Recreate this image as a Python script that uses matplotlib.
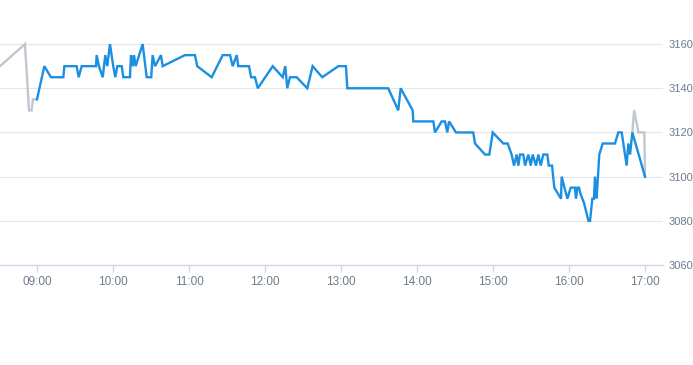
import matplotlib

matplotlib.use("Agg")
import matplotlib.pyplot as plt
from matplotlib.ticker import FixedLocator, FuncFormatter

# minutes after 09:00 -> price
PRE_T = [-29.2, -9.5, -6.3, -4.2, -3.2, -1.6, 0.0]
PRE_V = [3150, 3160, 3130, 3130, 3135, 3135, 3135]

DAY_T = [0.0, 5.8, 11.0, 20.8, 21.6, 31.3, 32.9, 35.3, 46.6, 47.1, 48.9, 51.9,
         53.9, 55.5, 57.6, 60.2, 61.8, 63.4, 66.9, 68.1, 73.4, 74.2, 75.6, 76.6,
         77.9, 83.4, 86.6, 90.2, 91.3, 93.2, 97.9, 99.2, 116.8, 124.7, 126.5,
         137.9, 146.6, 152.4, 154.5, 157.7, 158.9, 167.4, 169.0, 172.1, 174.3,
         186.1, 194.0, 196.0, 197.6, 199.7, 205.0, 213.4, 217.6, 225.2, 237.9,
         243.9, 245.0, 277.3, 285.2, 287.1, 296.6, 297.1, 312.9, 314.2, 319.5,
         322.1, 323.9, 325.3, 330.8, 344.4, 345.8, 353.7, 357.1, 359.8, 368.1,
         371.6, 374.7, 376.6, 378.7, 380.0, 381.3, 383.9, 385.3, 387.9, 389.8,
         391.3, 393.9, 395.8, 397.7, 399.7, 402.9, 404.0, 406.6, 408.4, 413.7,
         414.2, 418.7, 421.3, 424.7, 425.5, 426.6, 427.9, 429.2, 431.9, 435.3,
         436.6, 438.4, 439.7, 440.5, 441.8, 443.9, 446.6, 456.3, 458.9, 461.6,
         465.5, 466.8, 468.2, 470.0, 480.0]
DAY_V = [3135, 3150, 3145, 3145, 3150, 3150, 3145, 3150, 3150, 3155, 3150, 3145,
         3155, 3150, 3160, 3150, 3145, 3150, 3150, 3145, 3145, 3155, 3150, 3155,
         3150, 3160, 3145, 3145, 3155, 3150, 3155, 3150, 3155, 3155, 3150,
         3145, 3155, 3155, 3150, 3155, 3150, 3150, 3145, 3145, 3140,
         3150, 3145, 3150, 3140, 3145, 3145, 3140, 3150, 3145, 3150,
         3150, 3140, 3140, 3130, 3140, 3130, 3125, 3125, 3120, 3125,
         3125, 3120, 3125, 3120, 3120, 3115, 3110, 3110, 3120, 3115,
         3115, 3110, 3105, 3110, 3105, 3110, 3110, 3105, 3110, 3105,
         3110, 3105, 3110, 3105, 3110, 3110, 3105, 3105, 3095, 3090,
         3100, 3090, 3095, 3095, 3090, 3095, 3095, 3092, 3088, 3080,
         3080, 3090, 3090, 3100, 3090, 3110, 3115, 3115, 3120, 3120,
         3105, 3115, 3110, 3120, 3100]

POST_T = [470.0, 471.4, 474.8, 479.5, 480.0]
POST_V = [3120, 3130, 3120, 3120, 3100]

Y_TICKS = [3060, 3080, 3100, 3120, 3140, 3160]
X_TICKS = [0, 60, 120, 180, 240, 300, 360, 420, 480]

BLUE = "#1b8fe2"
GREY = "#c0c7cf"
LABEL = "#6f7c8c"
AXIS = "#ccd6eb"

plt.rcParams["font.family"] = ["Liberation Sans", "DejaVu Sans"]

fig = plt.figure(figsize=(6.93, 3.65), dpi=100)
ax = fig.add_axes([0, 1 - 265 / 365, 663 / 693, 243 / 365])

ax.plot(PRE_T, PRE_V, color=GREY, lw=1.7, zorder=2, solid_joinstyle="miter")
ax.plot(POST_T, POST_V, color=GREY, lw=1.7, zorder=2, solid_joinstyle="miter")
ax.plot(DAY_T, DAY_V, color=BLUE, lw=1.7, zorder=3, solid_joinstyle="miter")

ax.set_xlim(-29.2, 494.2)
ax.set_ylim(3060, 3170)

for s in ("top", "left", "right"):
    ax.spines[s].set_visible(False)
ax.spines["bottom"].set_color(AXIS)
ax.spines["bottom"].set_linewidth(1.0)

ax.xaxis.set_major_locator(FixedLocator(X_TICKS))
ax.xaxis.set_major_formatter(FuncFormatter(
    lambda m, _: f"{int(9 + m // 60):02d}:{int(m % 60):02d}"))
ax.tick_params(axis="x", length=5, width=1.0, color=AXIS, labelcolor=LABEL,
               labelsize=8.5, pad=3)

ax.yaxis.set_major_locator(FixedLocator(Y_TICKS))
ax.yaxis.tick_right()
ax.tick_params(axis="y", length=0, labelcolor=LABEL, labelsize=8, pad=4.2)
ax.grid(axis="y", color="#e6e6e6", lw=0.8)
ax.set_axisbelow(True)

fig.savefig("out.png", dpi=100)
